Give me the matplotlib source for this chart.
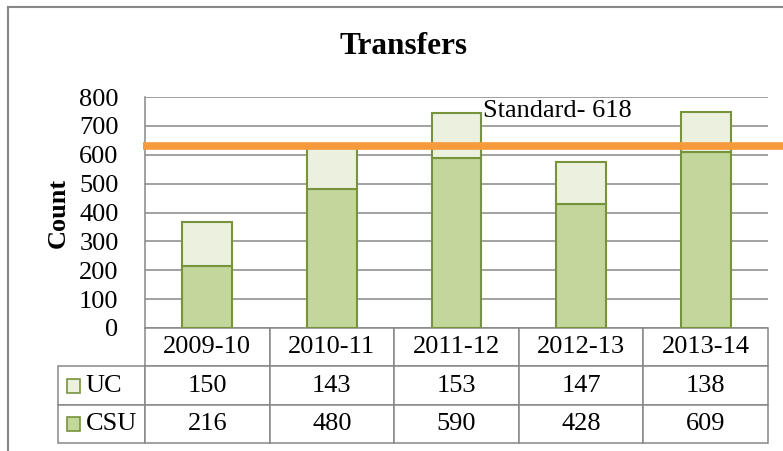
import matplotlib as mpl
mpl.use('Agg')
from matplotlib import pyplot as plt
from matplotlib.patches import Rectangle
from matplotlib.lines import Line2D
from matplotlib.table import Table

plt.rcParams['font.family'] = ['Liberation Serif', 'DejaVu Serif']

# Data
years = ['2009-10', '2010-11', '2011-12', '2012-13', '2013-14']
csu = [216, 480, 590, 428, 609]
uc = [150, 143, 153, 147, 138]
standard = 618
standard_line = 631   # where the drawn line actually sits
yticks = [0, 100, 200, 300, 400, 500, 600, 700, 800]

csu_color = '#C3D69B'
uc_color = '#EBF1DE'
edge_color = '#77933C'
grid_color = '#878787'

W, H = 783, 451
fig = plt.figure(figsize=(W / 100, H / 100), dpi=100)

# plot area in pixels: x 145..768, y 97..328
left, right, top, bottom = 145, 768, 97, 328
aw, ah = right - left, bottom - top
ax = fig.add_axes([left / W, 1 - bottom / H, aw / W, ah / H])

x = list(range(len(years)))
ax.bar(x, csu, width=0.4, color=csu_color, edgecolor=edge_color, linewidth=1.5, zorder=3)
ax.bar(x, uc, width=0.4, bottom=csu, color=uc_color, edgecolor=edge_color, linewidth=1.5, zorder=3)

ax.set_xlim(-0.5, len(years) - 0.5)
ax.set_ylim(0, 800)
ax.set_yticks(yticks)
ax.set_xticks([])
ax.tick_params(axis='y', length=0, pad=19, labelsize=19)
ax.yaxis.grid(True, color=grid_color, linewidth=1.1, zorder=0)
ax.set_axisbelow(True)
for s in ['top', 'right', 'bottom']:
    ax.spines[s].set_visible(False)
ax.spines['left'].set_color(grid_color)
ax.spines['left'].set_linewidth(1.1)

ax.set_ylabel('Count', fontsize=19, fontweight='bold')
ax.yaxis.set_label_coords(-0.12, 0.5)

# standard line + label
ax.axhline(standard_line, xmin=-0.003, xmax=1.03, color='#F79A3C', linewidth=5.5,
           solid_capstyle='butt', clip_on=False, zorder=5)
ax.text(2.21, 751, 'Standard- {}'.format(standard), fontsize=19, va='center', ha='left', zorder=6)

# data table below the plot (bbox covers the data columns only)
row_w = 87 / aw
tbl_h = 115 / ah
col_w = 1.0 / len(years)
row_h = tbl_h / 3
table = Table(ax, bbox=[0, -tbl_h, 1, tbl_h])
for j, yr in enumerate(years):
    table.add_cell(0, j, col_w, row_h, text=yr, loc='center')
for i, (name, vals) in enumerate([('UC', uc), ('CSU', csu)]):
    cell = table.add_cell(i + 1, -1, row_w, row_h, text=name, loc='left')
    cell.PAD = 0.32
    for j, v in enumerate(vals):
        table.add_cell(i + 1, j, col_w, row_h, text=str(v), loc='center')
table.auto_set_font_size(False)
table.set_fontsize(19)
for cell in table.get_celld().values():
    cell.set_edgecolor(grid_color)
    cell.set_linewidth(1.1)
ax.add_table(table)

# legend squares in the row label cells
sq_w = 13 / aw
sq_h = 14 / ah
for i, col in enumerate([uc_color, csu_color]):
    yc = -row_h * (1.5 + i)
    ax.add_patch(Rectangle((-row_w + 9 / aw, yc - sq_h / 2), sq_w, sq_h,
                           transform=ax.transAxes, facecolor=col,
                           edgecolor=edge_color, linewidth=1.2, clip_on=False, zorder=10))

# title and outer frame
fig.text(403 / W, 1 - 47 / H, 'Transfers', fontsize=22.5, fontweight='bold',
         ha='center', va='center')
fig.add_artist(Line2D([8 / W, 1], [1 - 7 / H, 1 - 7 / H], color=grid_color, linewidth=1.5))
fig.add_artist(Line2D([8 / W, 8 / W], [0, 1 - 7 / H], color=grid_color, linewidth=1.5))

plt.savefig('out.png', dpi=100)
